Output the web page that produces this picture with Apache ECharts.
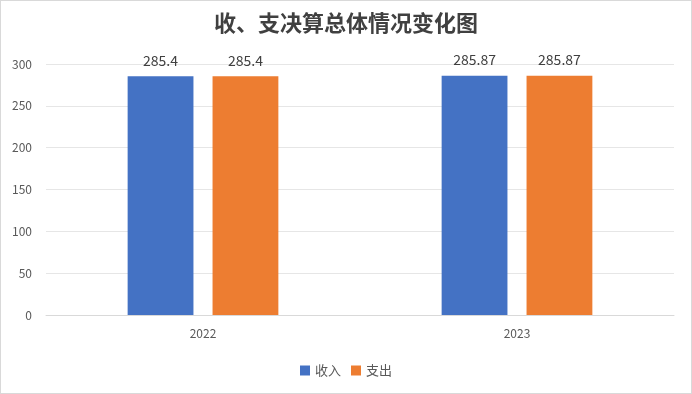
<!DOCTYPE html>
<html><head><meta charset="utf-8">
<script src="https://cdn.jsdelivr.net/npm/echarts@6/dist/echarts.min.js"></script>
<style>html,body{margin:0;padding:0;background:#fff}#c{width:690px;height:392px;border:1px solid #d9d9d9}</style>
</head><body><div id="c"></div>
<script>
var categories = ['2022', '2023'];
var incomeValues = [285.4, 285.87];
var expenseValues = [285.4, 285.87];
var seriesNames = ['收入', '支出'];
var chart = echarts.init(document.getElementById('c'));
var font = '"Noto Sans CJK SC", sans-serif';
chart.setOption({
  animation: false,
  title: {text: '收、支决算总体情况变化图', left: 'center', top: 6,
    textStyle: {fontFamily: font, fontSize: 22, fontWeight: 'bold', color: '#404040'}},
  legend: {data: seriesNames, bottom: 11, left: 'center', itemWidth: 10, itemHeight: 10, itemGap: 10,
    icon: 'rect', textStyle: {fontFamily: font, fontSize: 13, color: '#595959'}},
  grid: {left: 45, right: 17, top: 63, bottom: 78},
  xAxis: {type: 'category', data: categories,
    axisLine: {lineStyle: {color: '#d9d9d9'}}, axisTick: {show: false},
    axisLabel: {color: '#595959', fontSize: 12, margin: 12, fontFamily: font}},
  yAxis: {type: 'value', min: 0, max: 300, interval: 50,
    axisLine: {show: false}, axisTick: {show: false},
    splitLine: {lineStyle: {color: '#e6e6e6'}},
    axisLabel: {color: '#595959', fontSize: 12, margin: 14, fontFamily: font}},
  series: [
    {name: seriesNames[0], type: 'bar', data: incomeValues, barGap: '29%', barCategoryGap: '52%',
      itemStyle: {color: '#4472C4'},
      label: {show: true, position: 'top', distance: 9, color: '#404040', fontSize: 14, fontFamily: font}},
    {name: seriesNames[1], type: 'bar', data: expenseValues,
      itemStyle: {color: '#ED7D31'},
      label: {show: true, position: 'top', distance: 9, color: '#404040', fontSize: 14, fontFamily: font}}
  ]
});
</script></body></html>
